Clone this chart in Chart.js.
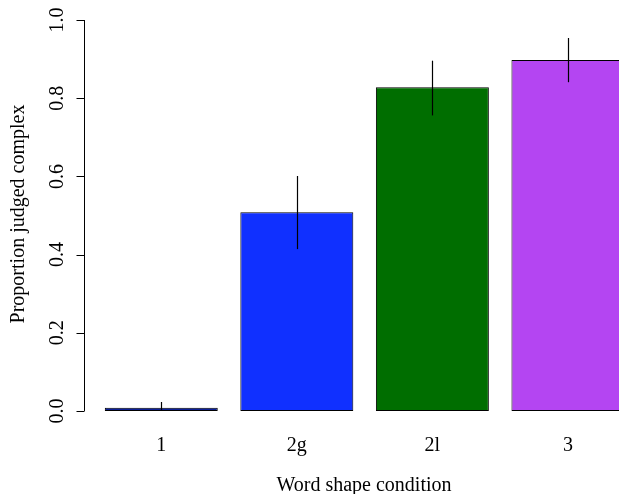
<!DOCTYPE html>
<html>
<head>
<meta charset="utf-8">
<script src="https://cdn.jsdelivr.net/npm/chart.js@4/dist/chart.umd.min.js"></script>
<style>
html,body{margin:0;padding:0;background:#fff;overflow:hidden;}
#wrap{width:619px;height:494px;position:relative;}
</style>
</head>
<body>
<div id="wrap"><canvas id="c" width="619" height="494"></canvas></div>
<script>
const categories = ['1', '2g', '2l', '3'];
const proportions = [0.008, 0.508, 0.828, 0.898];
const errLow = [0.0, 0.414, 0.756, 0.841];
const errHigh = [0.023, 0.601, 0.896, 0.954];
const barColors = ['#0b1f9a', '#1030ff', '#006e00', '#b445f2'];
const yTicks = ['0.0', '0.2', '0.4', '0.6', '0.8', '1.0'];
const xTitle = 'Word shape condition';
const yTitle = 'Proportion judged complex';

// R barplot midpoints: width 1, space 0.2
const mids = categories.map((_, i) => 0.7 + i * 1.2);
const FONT = '20px "Liberation Serif", "Times New Roman", serif';

const rAxes = {
  id: 'rAxes',
  afterDraw(chart) {
    const ctx = chart.ctx;
    const ys = chart.scales.y;
    const meta = chart.getDatasetMeta(0);
    ctx.save();
    // error bars
    ctx.strokeStyle = '#000';
    ctx.lineWidth = 1.2;
    meta.data.forEach((bar, i) => {
      const x = Math.round(bar.x) + 0.5;
      ctx.beginPath();
      ctx.moveTo(x, ys.getPixelForValue(errLow[i]));
      ctx.lineTo(x, ys.getPixelForValue(errHigh[i]));
      ctx.stroke();
    });
    // y axis
    ctx.lineWidth = 1;
    const axX = Math.round(chart.chartArea.left) + 0.5;
    const vals = yTicks.map(Number);
    ctx.beginPath();
    ctx.moveTo(axX, ys.getPixelForValue(vals[0]));
    ctx.lineTo(axX, ys.getPixelForValue(vals[vals.length - 1]));
    vals.forEach(v => {
      const py = Math.round(ys.getPixelForValue(v)) + 0.5;
      ctx.moveTo(axX, py);
      ctx.lineTo(axX - 8, py);
    });
    ctx.stroke();
    ctx.fillStyle = '#000';
    ctx.font = FONT;
    ctx.textAlign = 'center';
    ctx.textBaseline = 'middle';
    vals.forEach((v, i) => {
      const py = ys.getPixelForValue(v);
      ctx.save();
      ctx.translate(58, py);
      ctx.rotate(-Math.PI / 2);
      ctx.fillText(yTicks[i], 0, 0);
      ctx.restore();
    });
    // x category labels
    meta.data.forEach((bar, i) => {
      ctx.fillText(categories[i], bar.x, 446);
    });
    // titles
    ctx.fillText(xTitle, 364, 486);
    ctx.save();
    ctx.translate(19, 214);
    ctx.rotate(-Math.PI / 2);
    ctx.fillText(yTitle, 0, 0);
    ctx.restore();
    ctx.restore();
  }
};

new Chart(document.getElementById('c'), {
  type: 'bar',
  data: {
    datasets: [{
      data: mids.map((m, i) => ({ x: m, y: proportions[i] })),
      backgroundColor: barColors,
      borderColor: '#000',
      borderWidth: 1,
      borderSkipped: false,
      categoryPercentage: 1,
      barPercentage: 1 / 1.2
    }]
  },
  options: {
    responsive: false,
    animation: false,
    devicePixelRatio: 1,
    layout: { padding: { left: 84, right: 0, top: 4.4, bottom: 67.4 } },
    plugins: { legend: { display: false }, tooltip: { enabled: false } },
    scales: {
      x: {
        type: 'linear', display: false, offset: false, min: 0.016, max: 4.752,
        afterBuildTicks: s => { s.ticks = mids.map(v => ({ value: v })); }
      },
      y: {
        type: 'linear', display: false, min: -0.04, max: 1.04,
        afterBuildTicks: s => { s.ticks = yTicks.map(v => ({ value: Number(v) })); }
      }
    }
  },
  plugins: [rAxes]
});
</script>
</body>
</html>
